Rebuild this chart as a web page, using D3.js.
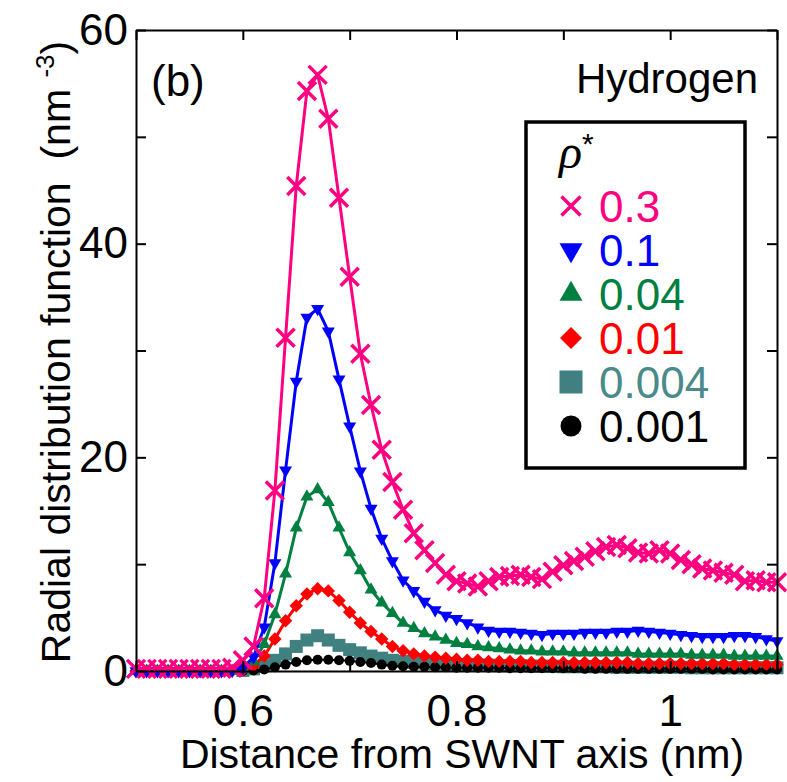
<!DOCTYPE html>
<html>
<head>
<meta charset="utf-8">
<script src="https://cdn.jsdelivr.net/npm/d3@7"></script>
<style>
  body { margin: 0; background: #fff; }
  svg text { font-family: "Liberation Sans", Arial, sans-serif; }
</style>
</head>
<body>
<div id="chart"></div>
<script>
// chart constants
const WIDTH = 787;
const HEIGHT = 782;
const margin = { top: 30, right: 10, bottom: 111, left: 136 };
const innerWidth = WIDTH - margin.left - margin.right;
const innerHeight = HEIGHT - margin.top - margin.bottom;

// data (distance in nm, g(r) in nm^-3)
const distance = [
  0.50, 0.51, 0.52, 0.53, 0.54, 0.55, 0.56, 0.57, 0.58, 0.59,
  0.60, 0.61, 0.62, 0.63, 0.64, 0.65, 0.66, 0.67, 0.68, 0.69,
  0.70, 0.71, 0.72, 0.73, 0.74, 0.75, 0.76, 0.77, 0.78, 0.79,
  0.80, 0.81, 0.82, 0.83, 0.84, 0.85, 0.86, 0.87, 0.88, 0.89,
  0.90, 0.91, 0.92, 0.93, 0.94, 0.95, 0.96, 0.97, 0.98, 0.99,
  1.00, 1.01, 1.02, 1.03, 1.04, 1.05, 1.06, 1.07, 1.08, 1.09, 1.10
];
const rho03 = [
  0.2, 0.2, 0.2, 0.2, 0.2, 0.2, 0.2, 0.2, 0.2, 0.3,
  1.0, 2.3, 6.8, 16.9, 31.2, 45.4, 54.3, 55.8, 51.7, 44.3,
  36.9, 29.7, 24.9, 20.7, 17.7, 15.1, 12.9, 11.3, 10.1, 9.0,
  8.4, 8.2, 7.9, 8.4, 8.8, 8.9, 9.0, 8.8, 8.6, 9.3,
  9.9, 10.3, 10.7, 11.2, 11.6, 11.8, 11.5, 11.1, 11.0, 11.3,
  11.0, 10.4, 10.0, 9.6, 9.4, 9.2, 9.0, 8.4, 8.5, 8.3, 8.3
];
const rho01 = [
  0, 0, 0, 0, 0, 0, 0, 0, 0, 0.05,
  0.3, 1.3, 4.1, 10.1, 18.8, 27.1, 33.1, 33.9, 31.8, 27.3,
  22.9, 18.7, 15.2, 12.4, 10.3, 8.5, 7.5, 6.5, 5.7, 5.2,
  4.9, 4.5, 4.1, 3.8, 3.7, 3.7, 3.6, 3.5, 3.4, 3.5,
  3.5, 3.5, 3.6, 3.6, 3.6, 3.7, 3.7, 3.8, 3.7, 3.6,
  3.5, 3.4, 3.3, 3.2, 3.2, 3.2, 3.3, 3.3, 3.2, 3.0, 2.8
];
const rho004 = [
  0, 0, 0, 0, 0, 0, 0, 0, 0, 0,
  0.2, 0.9, 2.5, 5.3, 9.1, 13.4, 16.3, 17.0, 15.8, 13.4,
  11.1, 9.4, 7.6, 6.4, 5.4, 4.5, 4.0, 3.5, 3.2, 2.9,
  2.6, 2.5, 2.3, 2.2, 2.1, 2.0, 1.9, 1.9, 1.8, 1.8,
  1.8, 1.7, 1.7, 1.7, 1.7, 1.7, 1.7, 1.6, 1.6, 1.6,
  1.6, 1.6, 1.5, 1.5, 1.5, 1.5, 1.4, 1.4, 1.4, 1.4, 1.4
];
const rho001 = [
  0, 0, 0, 0, 0, 0, 0, 0, 0, 0,
  0.1, 0.5, 1.4, 3.0, 4.7, 6.1, 7.2, 7.7, 7.5, 6.6,
  5.5, 4.5, 3.7, 3.0, 2.3, 1.9, 1.6, 1.4, 1.3, 1.2,
  1.1, 1.0, 1.0, 0.9, 0.9, 0.9, 0.9, 0.8, 0.8, 0.8,
  0.8, 0.8, 0.8, 0.8, 0.8, 0.8, 0.8, 0.7, 0.7, 0.7,
  0.7, 0.7, 0.7, 0.7, 0.7, 0.7, 0.6, 0.6, 0.6, 0.6, 0.6
];
// the two lowest densities start at 0.60 nm
const rho0004 = [
  0.05, 0.2, 0.5, 1.0, 1.6, 2.3, 2.9, 3.3, 2.9, 2.4,
  2.0, 1.7, 1.4, 1.2, 1.0, 0.9, 0.8, 0.75, 0.7, 0.65,
  0.6, 0.6, 0.55, 0.55, 0.5, 0.5, 0.5, 0.45, 0.45, 0.45,
  0.4, 0.4, 0.4, 0.4, 0.4, 0.35, 0.35, 0.35, 0.35, 0.35,
  0.35, 0.35, 0.3, 0.3, 0.3, 0.3, 0.3, 0.3, 0.3, 0.3, 0.3
];
const rho0001 = [
  0.0, 0.05, 0.15, 0.35, 0.6, 0.85, 1.0, 1.05, 1.05, 1.0,
  0.95, 0.85, 0.75, 0.6, 0.5, 0.45, 0.4, 0.4, 0.35, 0.35,
  0.3, 0.3, 0.3, 0.3, 0.3, 0.25, 0.25, 0.25, 0.25, 0.25,
  0.25, 0.25, 0.2, 0.2, 0.2, 0.2, 0.2, 0.2, 0.2, 0.2,
  0.2, 0.2, 0.2, 0.2, 0.15, 0.15, 0.15, 0.15, 0.15, 0.15, 0.15
];

const xTicks = [0.5, 0.6, 0.7, 0.8, 0.9, 1.0, 1.1];
const xTickLabels = ["", "0.6", "", "0.8", "", "1", ""];
const yTicks = [0, 10, 20, 30, 40, 50, 60];
const yTickLabels = ["0", "", "20", "", "40", "", "60"];

const legendLabels = ["0.3", "0.1", "0.04", "0.01", "0.004", "0.001"];

// marker shapes, r is half the marker span
const cross = r => `M${-r},${-r}L${r},${r}M${-r},${r}L${r},${-r}`;
const tri = w => d3.symbol(d3.symbolTriangle, Math.sqrt(3) / 4 * w * w)();
const square = s => d3.symbol(d3.symbolSquare, s * s)();
const circle = dia => d3.symbol(d3.symbolCircle, Math.PI * dia * dia / 4)();

// draw order: lowest first, pink on top
const series = [
  { label: legendLabels[4], color: "#408080", x: distance.slice(10), y: rho0004,
    mark: square(13), legendMark: square(23), rot: 0, fill: true, lw: 2.5 },
  { label: legendLabels[5], color: "#000000", x: distance.slice(10), y: rho0001,
    mark: circle(10), legendMark: circle(21), rot: 0, fill: true, lw: 2 },
  { label: legendLabels[3], color: "#ff0000", x: distance, y: rho001,
    mark: square(9.5), legendMark: square(15.5), rot: 45, fill: true, lw: 3 },
  { label: legendLabels[2], color: "#008040", x: distance, y: rho004,
    mark: tri(13), legendMark: tri(23), rot: 0, fill: true, lw: 3 },
  { label: legendLabels[1], color: "#0000ff", x: distance, y: rho01,
    mark: tri(13), legendMark: tri(23), rot: 180, fill: true, lw: 3 },
  { label: legendLabels[0], color: "#ff0080", x: distance, y: rho03,
    mark: cross(9), legendMark: cross(9.5), rot: 0, fill: false, lw: 3 }
];

const svg = d3.select("#chart").append("svg")
  .attr("width", WIDTH)
  .attr("height", HEIGHT);

const xScale = d3.scaleLinear().domain([0.5, 1.1]).range([0, innerWidth]);
const yScale = d3.scaleLinear().domain([0, 60]).range([innerHeight, 0]);

const plot = svg.append("g")
  .attr("transform", `translate(${margin.left}, ${margin.top})`);

// data
const line = d3.line().x(d => xScale(d[0])).y(d => yScale(d[1]));

series.forEach(s => {
  const pts = s.x.map((x, i) => [x, s.y[i]]);
  const g = plot.append("g");
  g.append("path")
    .datum(pts)
    .attr("d", line)
    .attr("fill", "none")
    .attr("stroke", s.color)
    .attr("stroke-width", s.lw);
  g.selectAll("path.mark")
    .data(pts)
    .enter().append("path")
    .attr("class", "mark")
    .attr("d", s.mark)
    .attr("transform", d => `translate(${xScale(d[0])}, ${yScale(d[1])}) rotate(${s.rot})`)
    .attr("fill", s.fill ? s.color : "none")
    .attr("stroke", s.fill ? "none" : s.color)
    .attr("stroke-width", 3.5);
});

// axes, ticks point inward
const fontTick = 44;
const xAxis = d3.axisBottom(xScale).tickValues(xTicks)
  .tickSizeInner(-10).tickSizeOuter(0).tickPadding(24)
  .tickFormat((d, i) => xTickLabels[i]);
const xAxisTop = d3.axisTop(xScale).tickValues(xTicks)
  .tickSizeInner(-10).tickSizeOuter(0).tickFormat("");
const yAxis = d3.axisLeft(yScale).tickValues(yTicks)
  .tickSizeInner(-10).tickSizeOuter(0).tickPadding(8)
  .tickFormat((d, i) => yTickLabels[i]);
const yAxisRight = d3.axisRight(yScale).tickValues(yTicks)
  .tickSizeInner(-10).tickSizeOuter(0).tickFormat("");

const axes = [
  plot.append("g").attr("transform", `translate(0, ${innerHeight})`).call(xAxis),
  plot.append("g").call(xAxisTop),
  plot.append("g").call(yAxis),
  plot.append("g").attr("transform", `translate(${innerWidth}, 0)`).call(yAxisRight)
];
axes.forEach(a => {
  a.selectAll("path, line").attr("stroke", "#000").attr("stroke-width", 2);
  // drop the empty labels
  a.selectAll("text").filter(function() { return this.textContent === ""; }).remove();
  a.selectAll("text")
    .attr("fill", "#000")
    .style("font-size", fontTick + "px")
    .style("font-family", "'Liberation Sans', Arial, sans-serif");
});

// axis titles
svg.append("text")
  .attr("x", 462)
  .attr("y", 768)
  .attr("text-anchor", "middle")
  .style("font-size", "41px")
  .text("Distance from SWNT axis (nm)");

const yTitle = svg.append("text")
  .attr("transform", "translate(70, 352) rotate(-90)")
  .attr("text-anchor", "middle")
  .style("font-size", "41px")
  .style("white-space", "pre");
yTitle.append("tspan").text("Radial distribution function  (nm ");
yTitle.append("tspan").attr("dy", -16).style("font-size", "26px").text("-3");
yTitle.append("tspan").attr("dy", 16).text(")");

// panel tag and gas name
svg.append("text")
  .attr("x", 151).attr("y", 96)
  .style("font-size", "44px")
  .text("(b)");
svg.append("text")
  .attr("x", 758).attr("y", 93)
  .attr("text-anchor", "end")
  .style("font-size", "42px")
  .text("Hydrogen");

// legend
const legend = svg.append("g");
legend.append("rect")
  .attr("x", 526).attr("y", 122)
  .attr("width", 219).attr("height", 346)
  .attr("fill", "#fff")
  .attr("stroke", "#000")
  .attr("stroke-width", 3.5);

const rhoText = legend.append("text")
  .attr("x", 559).attr("y", 168);
rhoText.append("tspan")
  .style("font-family", "'Liberation Serif', 'Times New Roman', serif")
  .style("font-style", "italic")
  .style("font-size", "48px")
  .text("ρ");
rhoText.append("tspan")
  .attr("dy", -14)
  .style("font-size", "30px")
  .text("*");

// legend rows go top to bottom: 0.3 ... 0.001
const legendOrder = series.slice().sort((a, b) => legendLabels.indexOf(a.label) - legendLabels.indexOf(b.label));
legendOrder.forEach((s, i) => {
  const base = 222 + i * 44;
  legend.append("path")
    .attr("d", s.legendMark)
    .attr("transform", `translate(571, ${base - 16}) rotate(${s.rot})`)
    .attr("fill", s.fill ? s.color : "none")
    .attr("stroke", s.fill ? "none" : s.color)
    .attr("stroke-width", 3.5);
  legend.append("text")
    .attr("x", 599).attr("y", base)
    .attr("fill", s.color === "#408080" ? "#4a8a8a" : s.color)
    .style("font-size", "44px")
    .text(s.label);
});
</script>
</body>
</html>
